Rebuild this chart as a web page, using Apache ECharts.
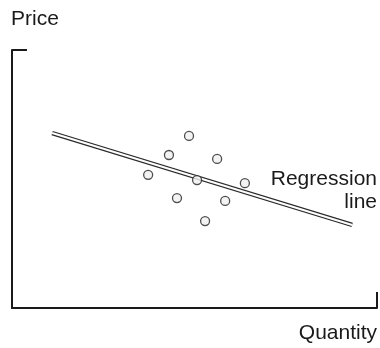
<!DOCTYPE html>
<html>
<head>
<meta charset="utf-8">
<script src="https://cdn.jsdelivr.net/npm/echarts@6/dist/echarts.min.js"></script>
<style>
html,body{margin:0;padding:0;background:#fff;}
#chart{width:380px;height:348px;}
</style>
</head>
<body>
<div id="chart"></div>
<script>
var quantity = [48.5, 43.0, 56.2, 37.3, 50.7, 63.8, 45.2, 58.4, 52.9];
var price    = [66.7, 59.3, 57.8, 51.6, 49.6, 48.4, 42.6, 41.5, 33.7];
// Regression line end points
var lineX = [11.0, 93.2];
var lineY = [67.8, 32.2];
// Axis end caps
var capTopX = [0, 4.1];
var capTopY = [100, 100];
var capRightX = [100, 100];
var capRightY = [0, 6.2];

var labels = { y: 'Price', x: 'Quantity', line1: 'Regression', line2: 'line' };

function pairs(a, b) { return a.map(function (v, i) { return [v, b[i]]; }); }

var chart = echarts.init(document.getElementById('chart'), null, { renderer: 'canvas' });
var ink = '#1a1a1a';
var font = '"Liberation Sans", Arial, Helvetica, sans-serif';
function ts() { return { fontFamily: font, fontSize: 21, fontWeight: 'normal', color: ink }; }
chart.setOption({
  animation: false,
  backgroundColor: '#ffffff',
  grid: { left: 12, right: 3, top: 50, bottom: 40 },
  xAxis: {
    type: 'value', min: 0, max: 100,
    axisLine: { show: true, lineStyle: { color: ink, width: 2 } },
    axisTick: { show: false }, axisLabel: { show: false }, splitLine: { show: false }
  },
  yAxis: {
    type: 'value', min: 0, max: 100,
    axisLine: { show: true, lineStyle: { color: ink, width: 2 } },
    axisTick: { show: false }, axisLabel: { show: false }, splitLine: { show: false }
  },
  title: [
    { text: labels.y, left: 6, top: 4, textStyle: ts() },
    { text: labels.x, right: -2, top: 318, textStyle: ts() },
    { text: labels.line1, right: -2, top: 164, textStyle: ts() },
    { text: labels.line2, right: -2, top: 187, textStyle: ts() }
  ],
  series: [
    { type: 'line', data: pairs(capTopX, capTopY), symbol: 'none', lineStyle: { color: ink, width: 2 }, silent: true },
    { type: 'line', data: pairs(capRightX, capRightY), symbol: 'none', lineStyle: { color: ink, width: 2 }, silent: true },
    { type: 'line', data: pairs(lineX, lineY), symbol: 'none', lineStyle: { color: '#2a2a2a', width: 4.5, cap: 'butt' }, silent: true, z: 3 },
    { type: 'line', data: pairs(lineX, lineY), symbol: 'none', lineStyle: { color: '#ffffff', width: 2, cap: 'butt' }, silent: true, z: 4 },
    { type: 'scatter', data: pairs(quantity, price), symbol: 'circle', symbolSize: 9,
      itemStyle: { color: '#f0f0f0', borderColor: '#222', borderWidth: 1.3 }, z: 5 }
  ]
});
</script>
</body>
</html>
